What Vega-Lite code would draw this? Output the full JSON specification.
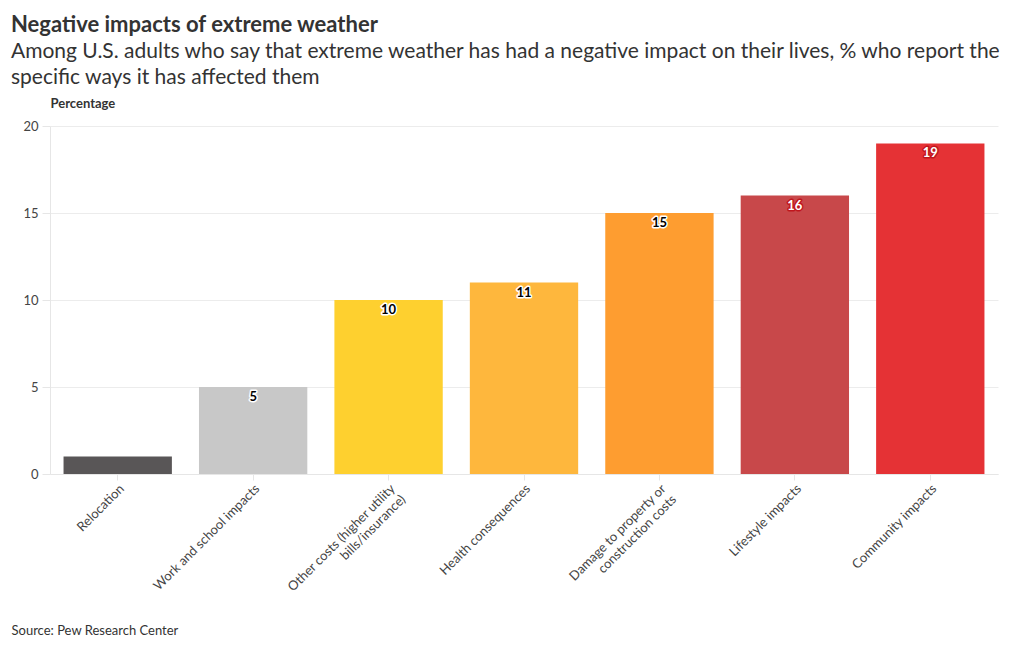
{
  "$schema": "https://vega.github.io/schema/vega-lite/v6.json",
  "width": 1020,
  "height": 650,
  "autosize": {"type": "fit", "contains": "padding"},
  "padding": {"left": 11, "right": 22, "top": 14, "bottom": 12},
  "background": "white",
  "config": {
    "font": "Lato",
    "view": {"stroke": null}
  },
  "title": {
    "text": "Negative impacts of extreme weather",
    "subtitle": ["Among U.S. adults who say that extreme weather has had a negative impact on their lives, % who report the", "specific ways it has affected them"],
    "anchor": "start",
    "frame": "bounds",
    "font": "Lato",
    "fontSize": 22,
    "fontWeight": "bold",
    "color": "#333333",
    "subtitleFont": "Lato",
    "subtitleFontSize": 21,
    "subtitleColor": "#333333",
    "subtitleLineHeight": 26,
    "subtitlePadding": 4,
    "offset": 8
  },
  "data": {
    "values": [
      {"impact": "Relocation", "value": 1, "color": "#595657"},
      {"impact": "Work and school impacts", "value": 5, "color": "#c8c8c8"},
      {"impact": "Other costs (higher utility\nbills/insurance)", "value": 10, "color": "#fed02f"},
      {"impact": "Health consequences", "value": 11, "color": "#feb73d"},
      {"impact": "Damage to property or\nconstruction costs", "value": 15, "color": "#fe9d30"},
      {"impact": "Lifestyle impacts", "value": 16, "color": "#c8484a"},
      {"impact": "Community impacts", "value": 19, "color": "#e53235"}
    ]
  },
  "encoding": {
    "x": {
      "field": "impact",
      "type": "nominal",
      "sort": null,
      "scale": {"paddingInner": 0.2, "paddingOuter": 0.1},
      "axis": {
        "title": "Source: Pew Research Center",
        "titleFont": "Lato",
        "titleFontSize": 13,
        "titleFontWeight": "normal",
        "titleColor": "#333333",
        "titleAnchor": "start",
        "titleAlign": "left",
        "titleX": -39,
        "titlePadding": 20,
        "labelAngle": -45,
        "labelAlign": "right",
        "labelBaseline": "top",
        "labelFontSize": 13,
        "labelColor": "#444444",
        "labelExpr": "split(datum.label, '\\n')",
        "labelLineHeight": 15,
        "domainColor": "#e6e6e6",
        "tickColor": "#e6e6e6",
        "tickSize": 6,
        "grid": false
      }
    },
    "y": {
      "field": "value",
      "type": "quantitative",
      "scale": {"domain": [0, 20]},
      "axis": {
        "title": "Percentage",
        "titleAngle": 0,
        "titleAlign": "left",
        "titleAnchor": "end",
        "titleX": 0,
        "titleY": -16,
        "titleFontSize": 13,
        "titleFontWeight": "bold",
        "titleColor": "#333333",
        "values": [0, 5, 10, 15, 20],
        "labelFontSize": 13,
        "labelColor": "#444444",
        "labelPadding": 4,
        "gridColor": "#ececec",
        "domainColor": "#e6e6e6",
        "tickColor": "#e6e6e6",
        "tickSize": 8
      }
    }
  },
  "layer": [
    {
      "mark": {"type": "bar"},
      "encoding": {
        "color": {"field": "color", "type": "nominal", "scale": null}
      }
    },
    {
      "transform": [{"filter": "datum.value >= 5"}],
      "mark": {"type": "text", "baseline": "middle", "dy": 10, "fontSize": 13, "fontWeight": "bold", "strokeWidth": 3, "strokeJoin": "round"},
      "encoding": {
        "text": {"field": "value", "type": "quantitative"},
        "stroke": {"condition": {"test": "datum.value >= 16", "value": "#c0161d"}, "value": "white"},
        "color": {"condition": {"test": "datum.value >= 16", "value": "#c0161d"}, "value": "white"}
      }
    },
    {
      "transform": [{"filter": "datum.value >= 5"}],
      "mark": {"type": "text", "baseline": "middle", "dy": 10, "fontSize": 13, "fontWeight": "bold"},
      "encoding": {
        "text": {"field": "value", "type": "quantitative"},
        "color": {"condition": {"test": "datum.value >= 16", "value": "white"}, "value": "black"}
      }
    }
  ]
}
